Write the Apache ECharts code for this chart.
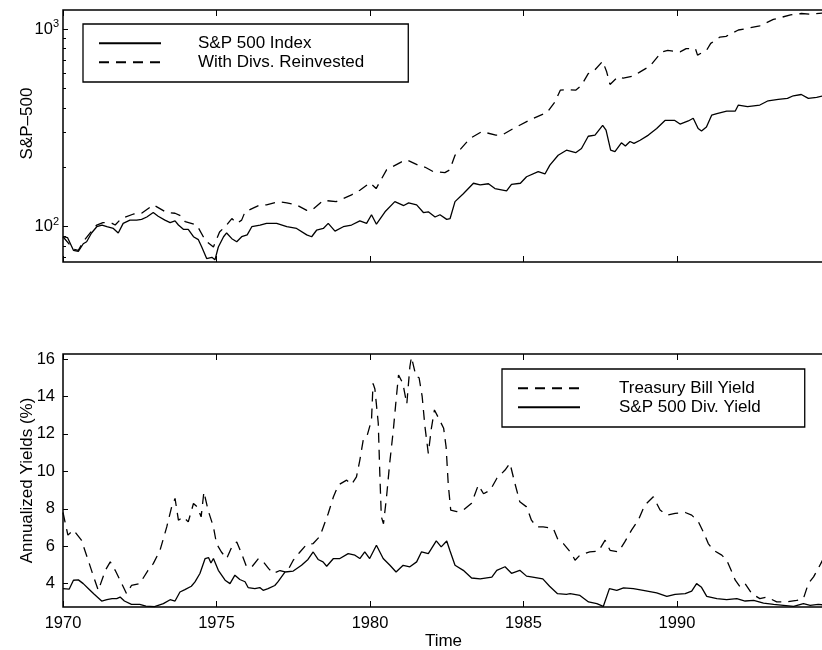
<!DOCTYPE html>
<html>
<head>
<meta charset="utf-8">
<script src="https://cdn.jsdelivr.net/npm/echarts@6/dist/echarts.min.js"></script>
<style>
html,body{margin:0;padding:0;background:#fff;}
#chart{width:822px;height:650px;}
</style>
</head>
<body>
<div id="chart"></div>
<script>
// ---------- DATA ----------
const spxYears = [1970.0,1970.15,1970.34,1970.5,1970.66,1970.77,1970.93,1971.1,1971.27,1971.43,1971.64,1971.8,1971.96,1972.18,1972.4,1972.56,1972.73,1972.94,1973.1,1973.32,1973.49,1973.65,1973.76,1973.92,1974.08,1974.25,1974.41,1974.52,1974.68,1974.85,1974.95,1975.06,1975.23,1975.33,1975.5,1975.66,1975.82,1976.0,1976.15,1976.42,1976.63,1976.96,1977.29,1977.61,1977.94,1978.1,1978.26,1978.48,1978.64,1978.86,1979.13,1979.4,1979.67,1979.89,1980.05,1980.21,1980.49,1980.81,1981.1,1981.26,1981.52,1981.74,1981.9,1982.12,1982.28,1982.5,1982.61,1982.77,1983.04,1983.37,1983.59,1983.86,1984.07,1984.45,1984.61,1984.9,1985.1,1985.48,1985.7,1985.86,1986.13,1986.4,1986.7,1986.89,1987.11,1987.33,1987.58,1987.69,1987.84,1987.98,1988.19,1988.32,1988.47,1988.6,1988.8,1989.07,1989.34,1989.61,1989.93,1990.1,1990.37,1990.53,1990.69,1990.8,1990.96,1991.13,1991.3,1991.62,1991.9,1992.0,1992.3,1992.7,1992.97,1993.3,1993.6,1993.79,1994.05,1994.28,1994.55,1994.79];
const spxIndex = [89,88,76,75,82,84,93,100,102,100,98,93,104,108,108,109,112,118,113,108,105,107,102,97,97,89,86,79,69,70,68,79,89,93,87,84,89,91,100,102,104,104,100,98,91,89,96,98,104,95,100,102,107,104,115,103,119,134,128,132,129,118,119,112,115,109,110,134,147,166,163,165,156,152,164,166,179,190,185,205,230,244,237,249,287,291,326,308,244,240,266,256,270,264,274,291,314,345,345,331,343,354,314,305,320,367,374,385,385,413,405,413,434,441,446,460,467,446,452,460];

const divYears = [1970.0,1970.34,1970.5,1970.66,1970.93,1971.1,1971.3,1971.6,1971.7,1971.9,1972.3,1972.56,1972.94,1973.1,1973.38,1973.65,1973.87,1973.98,1974.36,1974.57,1974.68,1974.9,1975.1,1975.33,1975.5,1975.66,1975.82,1975.93,1976.42,1976.63,1977.01,1977.29,1977.61,1977.94,1978.1,1978.48,1978.9,1979.4,1979.67,1980.0,1980.2,1980.54,1981.03,1981.2,1981.57,1981.8,1982.06,1982.44,1982.6,1982.77,1983.26,1983.64,1984.1,1984.3,1984.67,1985.21,1985.65,1985.76,1986.03,1986.2,1986.4,1986.7,1986.89,1987.11,1987.27,1987.58,1987.71,1987.82,1988.08,1988.25,1988.6,1988.8,1989.12,1989.5,1989.7,1990.1,1990.3,1990.6,1990.67,1990.96,1991.1,1991.4,1991.6,1992.0,1992.3,1992.7,1993.14,1993.7,1994.05,1994.4,1994.79];
const divsReinvested = [89,77,76,84,95,102,105,104,102,110,116,117,129,125,118,117,113,106,102,89,84,79,94,102,110,104,108,119,129,129,134,132,129,121,121,136,134,145,153,167,156,194,213,218,205,200,190,188,194,230,280,303,291,291,314,347,372,377,429,491,495,491,520,596,608,688,608,525,574,565,580,608,650,767,780,767,797,797,739,780,847,912,920,990,1010,1040,1120,1180,1200,1190,1210];

const tbYears = [1970.0,1970.16,1970.34,1970.6,1970.82,1971.0,1971.15,1971.38,1971.54,1971.7,1971.86,1972.07,1972.23,1972.5,1972.77,1972.94,1973.16,1973.38,1973.54,1973.65,1973.76,1973.92,1974.08,1974.25,1974.37,1974.5,1974.59,1974.73,1974.9,1975.0,1975.16,1975.33,1975.5,1975.66,1975.82,1975.98,1976.15,1976.37,1976.53,1976.7,1976.85,1977.07,1977.29,1977.5,1977.72,1977.94,1978.15,1978.37,1978.48,1978.64,1978.81,1978.97,1979.24,1979.4,1979.56,1979.67,1979.78,1979.89,1980.05,1980.1,1980.16,1980.27,1980.32,1980.37,1980.44,1980.54,1980.64,1980.76,1980.85,1980.93,1981.07,1981.2,1981.3,1981.35,1981.5,1981.6,1981.7,1981.79,1981.9,1982.0,1982.1,1982.28,1982.4,1982.48,1982.55,1982.63,1982.83,1983.04,1983.31,1983.53,1983.7,1983.92,1984.13,1984.4,1984.56,1984.72,1984.88,1985.1,1985.26,1985.43,1985.64,1985.97,1986.13,1986.3,1986.57,1986.68,1986.84,1987.16,1987.44,1987.66,1987.82,1988.1,1988.3,1988.52,1988.74,1988.95,1989.23,1989.45,1989.67,1989.94,1990.27,1990.48,1990.7,1990.86,1991.02,1991.19,1991.46,1991.62,1991.79,1991.9,1992.06,1992.22,1992.44,1992.7,1992.93,1993.25,1993.57,1993.9,1994.12,1994.28,1994.45,1994.6,1994.79];
const tbillYield = [7.8,6.59,6.86,6.32,5.25,4.35,3.64,4.71,5.16,4.71,4.18,3.46,3.9,4.0,4.71,5.07,5.78,7.03,8.1,8.55,7.39,7.57,7.3,8.28,8.1,7.57,8.9,7.9,7.03,6.14,5.69,5.34,5.96,6.23,5.6,4.89,4.89,5.34,5.16,4.8,4.54,4.7,4.6,5.25,5.69,6.1,6.14,6.53,7.03,7.75,8.64,9.27,9.53,9.3,9.7,10.6,11.68,11.8,12.75,14.7,14.4,12.57,9.9,7.57,7.2,8.64,10.4,12.2,13.8,15.15,14.7,13.6,15.6,16.1,15.07,15.0,14.0,12.4,10.96,12.3,13.28,12.7,12.3,11.3,9.3,7.93,7.85,7.93,8.3,9.27,8.8,9.0,9.62,10.07,10.43,9.36,8.37,8.1,7.39,7.03,7.03,6.95,6.32,6.14,5.6,5.25,5.52,5.7,5.73,6.32,5.78,5.7,6.23,6.86,7.39,8.19,8.64,7.93,7.66,7.75,7.8,7.66,7.3,6.76,6.14,5.78,5.52,5.25,4.62,4.18,3.82,4.0,3.46,3.2,3.28,3.02,3.02,3.1,3.2,4.0,4.36,4.8,5.4];

const dyYears = [1970.0,1970.2,1970.34,1970.5,1970.66,1970.83,1971.0,1971.26,1971.43,1971.6,1971.75,1971.86,1972.0,1972.23,1972.5,1972.7,1972.98,1973.27,1973.49,1973.65,1973.81,1973.97,1974.18,1974.3,1974.46,1974.63,1974.74,1974.82,1974.9,1975.06,1975.28,1975.44,1975.6,1975.76,1975.93,1976.03,1976.25,1976.41,1976.52,1976.68,1976.9,1977.0,1977.23,1977.5,1977.77,1977.98,1978.15,1978.31,1978.47,1978.59,1978.81,1979.02,1979.29,1979.51,1979.67,1979.83,1979.99,1980.21,1980.43,1980.65,1980.85,1981.08,1981.3,1981.52,1981.68,1981.9,1982.16,1982.32,1982.5,1982.6,1982.77,1983.04,1983.31,1983.59,1983.97,1984.13,1984.4,1984.61,1984.88,1985.1,1985.3,1985.63,1985.85,1986.11,1986.4,1986.52,1986.84,1987.12,1987.39,1987.6,1987.8,1988.04,1988.26,1988.58,1988.9,1989.34,1989.67,1989.94,1990.27,1990.48,1990.64,1990.8,1990.97,1991.3,1991.62,1991.95,1992.22,1992.5,1992.82,1993.15,1993.47,1993.8,1994.12,1994.34,1994.6,1994.79];
const divYield = [3.73,3.7,4.18,4.2,4.0,3.73,3.46,3.07,3.14,3.2,3.2,3.28,3.07,2.89,2.89,2.8,2.77,2.93,3.14,3.07,3.55,3.68,3.86,4.09,4.54,5.34,5.39,5.1,5.34,4.71,4.18,4.0,4.45,4.22,4.1,3.79,3.73,3.79,3.64,3.73,3.9,4.09,4.62,4.67,4.98,5.29,5.69,5.29,5.16,4.93,5.34,5.34,5.6,5.52,5.34,5.7,5.34,6.05,5.34,4.98,4.62,4.98,4.9,5.16,5.7,5.6,6.28,5.96,6.28,5.78,4.98,4.71,4.3,4.25,4.35,4.71,4.9,4.55,4.71,4.4,4.35,4.25,3.86,3.46,3.43,3.46,3.37,3.02,2.93,2.78,3.73,3.64,3.77,3.73,3.64,3.5,3.32,3.43,3.46,3.6,4.0,3.8,3.32,3.2,3.14,3.2,3.07,3.1,2.96,2.89,2.84,2.78,2.93,2.84,2.89,2.86];

const yearTicks = [1970, 1975, 1980, 1985, 1990];
const logMajorTicks = [100, 1000];
const logMinorTicks = [70, 80, 90, 200, 300, 400, 500, 600, 700, 800, 900];
const yieldTicks = [4, 6, 8, 10, 12, 14, 16];

// ---------- CHART ----------
const FONT = 'Liberation Sans';
const zip = (xs, ys) => xs.map((x, i) => [x, ys[i]]);
const X_MIN = 1970, X_MAX = 1994.79;

function xAx(grid, pos, labels, extra) {
  return Object.assign({
    type: 'value', gridIndex: grid, position: pos, min: X_MIN, max: X_MAX,
    axisLine: { show: false },
    axisTick: { show: true, inside: true, length: 6, customValues: yearTicks, lineStyle: { color: '#000', width: 1 } },
    axisLabel: labels ? { show: true, customValues: yearTicks, formatter: v => String(Math.round(v)), color: '#000', fontFamily: FONT, fontSize: 16.5, margin: 8 } : { show: false },
    splitLine: { show: false }
  }, extra || {});
}

const chart = echarts.init(document.getElementById('chart'), null, { renderer: 'canvas' });
const option = {
  animation: false,
  backgroundColor: '#fff',
  textStyle: { fontFamily: FONT, color: '#000' },
  grid: [
    { left: 63, right: -2, top: 10, height: 252, show: true, borderColor: '#000', borderWidth: 1.5, backgroundColor: '#fff', outerBoundsMode: 'none', containLabel: false },
    { left: 63, right: -2, top: 354, height: 253, show: true, borderColor: '#000', borderWidth: 1.5, backgroundColor: '#fff', outerBoundsMode: 'none', containLabel: false }
  ],
  xAxis: [
    xAx(0, 'bottom', false),
    xAx(0, 'top', false),
    xAx(1, 'bottom', true, { name: 'Time', nameLocation: 'middle', nameGap: 26, nameMoveOverlap: false,
      nameTextStyle: { fontFamily: FONT, fontSize: 17, color: '#000' } }),
    xAx(1, 'top', false)
  ],
  yAxis: [
    {
      type: 'log', logBase: 10, gridIndex: 0, position: 'left', min: 66.3, max: 1250,
      name: 'S&P\u2013500', nameLocation: 'middle', nameGap: 27.5, nameMoveOverlap: false,
      nameTextStyle: { fontFamily: FONT, fontSize: 17, color: '#000', padding: [0, 0, 0, 25] },
      axisLine: { show: false },
      axisTick: { show: true, inside: true, length: 5, customValues: logMajorTicks, lineStyle: { color: '#000' } },
      axisLabel: {
        show: true, customValues: logMajorTicks, margin: 4, color: '#000',
        formatter: v => '{b|10}{s|' + Math.round(Math.log10(v)) + '}',
        rich: {
          b: { fontFamily: FONT, fontSize: 16.5, color: '#000' },
          s: { fontFamily: FONT, fontSize: 11, color: '#000', padding: [0, 0, 10, 0] }
        }
      },
      splitLine: { show: false }
    },
    {
      type: 'log', logBase: 10, gridIndex: 0, position: 'left', min: 66.3, max: 1250,
      axisLine: { show: false },
      axisTick: { show: true, inside: true, length: 3, customValues: logMinorTicks, lineStyle: { color: '#000' } },
      axisLabel: { show: false },
      splitLine: { show: false }
    },
    {
      type: 'value', gridIndex: 1, position: 'left', min: 2.75, max: 16.27,
      name: 'Annualized Yields (%)', nameLocation: 'middle', nameGap: 27.5, nameMoveOverlap: false,
      nameTextStyle: { fontFamily: FONT, fontSize: 17, color: '#000' },
      axisLine: { show: false },
      axisTick: { show: true, inside: true, length: 5, customValues: yieldTicks, lineStyle: { color: '#000' } },
      axisLabel: { show: true, customValues: yieldTicks, margin: 8, color: '#000', fontFamily: FONT, fontSize: 16.5 },
      splitLine: { show: false }
    }
  ],
  legend: [
    {
      data: ['S&P 500 Index', 'With Divs. Reinvested'],
      left: 83, top: 24, orient: 'vertical',
      itemWidth: 62, itemHeight: 14, itemGap: 2,
      padding: [10.8, 44, 11.2, 15],
      borderColor: '#000', borderWidth: 1.3, backgroundColor: '#fff',
      selectedMode: false,
      itemStyle: { opacity: 0 },
      textStyle: { fontFamily: FONT, fontSize: 17, lineHeight: 17, color: '#000', padding: [0, 0, 0, 32] }
    },
    {
      data: ['Treasury Bill Yield', 'S&P 500 Div. Yield'],
      left: 502, top: 369, orient: 'vertical',
      itemWidth: 62, itemHeight: 14, itemGap: 2,
      padding: [10.8, 44, 11.2, 15],
      borderColor: '#000', borderWidth: 1.3, backgroundColor: '#fff',
      selectedMode: false,
      itemStyle: { opacity: 0 },
      textStyle: { fontFamily: FONT, fontSize: 17, lineHeight: 17, color: '#000', padding: [0, 0, 0, 34] }
    }
  ],
  series: [
    { name: 'S&P 500 Index', type: 'line', xAxisIndex: 0, yAxisIndex: 0, symbol: 'none',
      data: zip(spxYears, spxIndex), itemStyle: { color: '#000' },
      lineStyle: { color: '#000', width: 1.3, type: 'solid' } },
    { name: 'With Divs. Reinvested', type: 'line', xAxisIndex: 0, yAxisIndex: 0, symbol: 'none',
      data: zip(divYears, divsReinvested), itemStyle: { color: '#000' },
      lineStyle: { color: '#000', width: 1.3, type: [10, 7] } },
    { name: 'Treasury Bill Yield', type: 'line', xAxisIndex: 2, yAxisIndex: 2, symbol: 'none',
      data: zip(tbYears, tbillYield), itemStyle: { color: '#000' },
      lineStyle: { color: '#000', width: 1.3, type: [10, 7] } },
    { name: 'S&P 500 Div. Yield', type: 'line', xAxisIndex: 2, yAxisIndex: 2, symbol: 'none',
      data: zip(dyYears, divYield), itemStyle: { color: '#000' },
      lineStyle: { color: '#000', width: 1.3, type: 'solid' } }
  ]
};
chart.setOption(option);
</script>
</body>
</html>
